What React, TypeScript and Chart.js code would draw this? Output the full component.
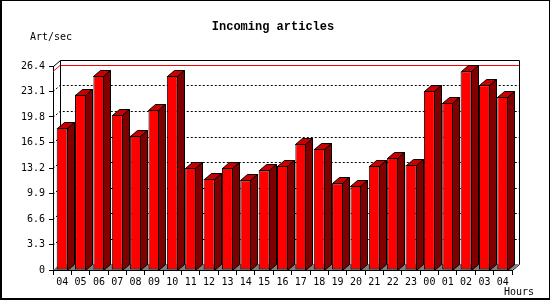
import React, { useEffect, useRef } from "react";
import { Chart, registerables } from "chart.js";

Chart.register(...registerables);

const categories = ["04","05","06","07","08","09","10","11","12","13","14","15","16","17","18","19","20","21","22","23","00","01","02","03","04"];
const articlesPerSec = [18.4,22.7,25.1,20.1,17.4,20.7,25.1,13.2,11.8,13.2,11.6,12.9,13.5,16.3,15.7,11.2,10.9,13.5,14.5,13.6,23.2,21.6,25.7,23.9,22.4];
const yTickValues = [0,3.3,6.6,9.9,13.2,16.5,19.8,23.1,26.4];
const yTickLabels = ["0","3.3","6.6","9.9","13.2","16.5","19.8","23.1","26.4"];
const titleText = "Incoming articles";
const yUnitText = "Art/sec";
const xUnitText = "Hours";

const DX = 7;
const DY = 6;
const MONO = "'DejaVu Sans Mono', monospace";

const depthPlugin = {
  id: "depth3d",
  beforeDatasetsDraw(chart: any) {
    const { ctx, chartArea, scales } = chart;
    const { left, right, top, bottom } = chartArea;
    const y = scales.y;
    ctx.save();
    // floor
    ctx.fillStyle = "#808080";
    ctx.beginPath();
    ctx.moveTo(left, bottom);
    ctx.lineTo(right, bottom);
    ctx.lineTo(right + DX, bottom - DY);
    ctx.lineTo(left + DX, bottom - DY);
    ctx.closePath();
    ctx.fill();
    // dotted grid lines on left wall and back wall
    ctx.strokeStyle = "#000";
    ctx.lineWidth = 1;
    ctx.setLineDash([2, 2]);
    for (let i = 1; i < yTickValues.length - 1; i++) {
      const yf = Math.round(y.getPixelForValue(yTickValues[i])) + 0.5;
      ctx.beginPath();
      ctx.moveTo(left, yf);
      ctx.lineTo(left + DX, yf - DY);
      ctx.lineTo(right + DX, yf - DY);
      ctx.stroke();
    }
    ctx.setLineDash([]);
    // max line
    const maxV = Math.max(...articlesPerSec);
    const ym = Math.round(y.getPixelForValue(maxV)) + 0.5;
    ctx.strokeStyle = "#ff0000";
    ctx.beginPath();
    ctx.moveTo(left, ym);
    ctx.lineTo(left + DX, ym - DY);
    ctx.lineTo(right + DX, ym - DY);
    ctx.stroke();
    // wall outline
    ctx.strokeStyle = "#000";
    const L = Math.round(left) + 0.5, R = Math.round(right) + 0.5;
    const T = Math.round(top) + 0.5, B = Math.round(bottom) + 0.5;
    ctx.beginPath();
    ctx.moveTo(L, T);
    ctx.lineTo(L + DX, T - DY);
    ctx.lineTo(R + DX, T - DY);
    ctx.lineTo(R + DX, B - DY);
    ctx.lineTo(R, B);
    ctx.moveTo(L + DX, T - DY);
    ctx.lineTo(L + DX, B - DY);
    ctx.stroke();
    ctx.restore();
  },
  afterDatasetsDraw(chart: any) {
    const { ctx } = chart;
    const meta = chart.getDatasetMeta(0);
    ctx.save();
    ctx.strokeStyle = "#000";
    ctx.lineWidth = 1;
    meta.data.forEach((bar: any) => {
      const x1 = Math.round(bar.x - bar.width / 2) + 0.5;
      const x2 = Math.round(bar.x + bar.width / 2) - 0.5;
      const yt = Math.round(bar.y) + 0.5;
      const yb = Math.round(bar.base) + 0.5;
      // top face
      ctx.fillStyle = "#c80000";
      ctx.beginPath();
      ctx.moveTo(x1, yt);
      ctx.lineTo(x2, yt);
      ctx.lineTo(x2 + DX, yt - DY);
      ctx.lineTo(x1 + DX, yt - DY);
      ctx.closePath();
      ctx.fill();
      ctx.stroke();
      // side face
      ctx.fillStyle = "#800000";
      ctx.beginPath();
      ctx.moveTo(x2, yt);
      ctx.lineTo(x2 + DX, yt - DY);
      ctx.lineTo(x2 + DX, yb - DY);
      ctx.lineTo(x2, yb);
      ctx.closePath();
      ctx.fill();
      ctx.stroke();
    });
    ctx.restore();
  },
  afterDraw(chart: any) {
    const { ctx, width, height } = chart;
    ctx.save();
    ctx.fillStyle = "#000";
    ctx.font = `bold 12px 'Liberation Mono', monospace`;
    ctx.textAlign = "center";
    ctx.textBaseline = "middle";
    ctx.fillText(titleText, 273, 27);
    ctx.font = `10px ${MONO}`;
    ctx.textAlign = "left";
    ctx.fillText(yUnitText, 30, 37);
    ctx.textAlign = "right";
    ctx.fillText(xUnitText, 534, 292);
    // frame
    ctx.fillRect(0, 0, 2, height);
    ctx.fillRect(0, 0, width, 1);
    ctx.fillRect(width - 1, 0, 1, height);
    ctx.fillRect(0, height - 2, width, 2);
    ctx.restore();
  },
};

export default function App() {
  const ref = useRef<HTMLCanvasElement>(null);
  useEffect(() => {
    document.body.style.margin = "0";
    const canvas = ref.current!;
    const chart = new Chart(canvas, {
      type: "bar",
      data: {
        labels: categories,
        datasets: [
          {
            data: articlesPerSec,
            backgroundColor: "#ff0000",
            borderColor: "#000000",
            borderWidth: 1,
            borderSkipped: false,
            barPercentage: 1,
            categoryPercentage: 0.6,
          },
        ],
      },
      options: {
        responsive: false,
        animation: false,
        devicePixelRatio: 1,
        layout: { padding: { left: 0, top: 66, right: 38, bottom: 0 } },
        plugins: { legend: { display: false }, tooltip: { enabled: false }, title: { display: false } },
        scales: {
          x: {
            offset: true,
            grid: { display: true, drawOnChartArea: false, drawTicks: true, tickLength: 5, color: "#000", offset: true },
            border: { display: true, color: "#000" },
            ticks: { color: "#000", font: { family: MONO, size: 10 }, padding: 1, maxRotation: 0, autoSkip: false },
            afterFit: (s: any) => { s.height = 30; },
          },
          y: {
            min: 0,
            max: 26.4,
            grid: { display: true, drawOnChartArea: false, drawTicks: true, tickLength: 4, color: "#000" },
            border: { display: true, color: "#000" },
            afterBuildTicks: (s: any) => { s.ticks = yTickValues.map((v) => ({ value: v })); },
            ticks: {
              color: "#000",
              font: { family: MONO, size: 10 },
              padding: 4,
              callback: (_v: any, i: number) => yTickLabels[i],
            },
            afterFit: (s: any) => { s.width = 53; },
          },
        },
      },
      plugins: [depthPlugin],
    });
    return () => chart.destroy();
  }, []);
  return <canvas ref={ref} width={550} height={300} style={{ display: "block" }} />;
}
